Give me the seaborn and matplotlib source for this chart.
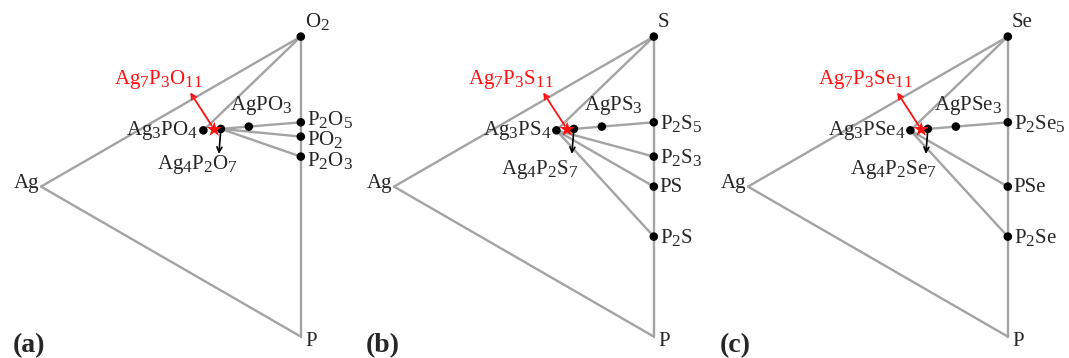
import re
import numpy as np
import pandas as pd
import matplotlib
matplotlib.use('Agg')
import matplotlib.pyplot as plt
import matplotlib._mathtext as mathtext
import seaborn as sns

# one panel per chalcogen: Ag - P - X ternary
top_labels = ['O2', 'S', 'Se']
panel_tags = ['(a)', '(b)', '(c)']

# phases as atom counts (Ag, P, X)
phases_a = ['Ag3PO4', 'Ag4P2O7', 'AgPO3', 'P2O5', 'PO2', 'P2O3']
counts_a = [(3, 1, 4), (4, 2, 7), (1, 1, 3), (0, 2, 5), (0, 1, 2), (0, 2, 3)]
phases_b = ['Ag3PS4', 'Ag4P2S7', 'AgPS3', 'P2S5', 'P2S3', 'PS', 'P2S']
counts_b = [(3, 1, 4), (4, 2, 7), (1, 1, 3), (0, 2, 5), (0, 2, 3), (0, 1, 1), (0, 2, 1)]
phases_c = ['Ag3PSe4', 'Ag4P2Se7', 'AgPSe3', 'P2Se5', 'PSe', 'P2Se']
counts_c = [(3, 1, 4), (4, 2, 7), (1, 1, 3), (0, 2, 5), (0, 1, 1), (0, 2, 1)]

star_names = ['Ag7P3O11', 'Ag7P3S11', 'Ag7P3Se11']
star_counts = (7, 3, 11)

# tie lines (pairs of phase names)
ties_a = [('O2', 'Ag3PO4'), ('Ag4P2O7', 'P2O5'), ('Ag4P2O7', 'PO2'), ('Ag4P2O7', 'P2O3')]
ties_b = [('S', 'Ag3PS4'), ('Ag4P2S7', 'P2S5'), ('Ag3PS4', 'P2S3'), ('Ag3PS4', 'PS'), ('Ag3PS4', 'P2S')]
ties_c = [('Se', 'Ag3PSe4'), ('Ag4P2Se7', 'P2Se5'), ('Ag3PSe4', 'PSe'), ('Ag3PSe4', 'P2Se')]

panels = [(phases_a, counts_a, ties_a), (phases_b, counts_b, ties_b), (phases_c, counts_c, ties_c)]

sns.set_style('white')
plt.rcParams['font.family'] = ['Liberation Serif', 'DejaVu Serif']
plt.rcParams['mathtext.fontset'] = 'custom'
plt.rcParams['mathtext.rm'] = 'Liberation Serif'
plt.rcParams['mathtext.it'] = 'Liberation Serif:italic'
# the subscripts in the figure are only slightly smaller than the text
if hasattr(mathtext, 'SHRINK_FACTOR'):
    mathtext.SHRINK_FACTOR = 0.82

GRAY = '#a3a3a3'
RED = '#ff1010'
FS = 15
PX = 0.72  # pixels -> points

# small nudges where labels sit close together (pixels)
nudge = {'P2O5': (0, 4), 'PO2': (0, -2), 'P2O3': (0, -3)}


def formula(name):
    return re.sub(r'(\d+)', r'$_{\\mathrm{\1}}$', name)


def to_xy(c):
    c = np.array(c, dtype=float)
    c = c / c.sum()
    h = np.sqrt(3) / 2
    return h * (c[1] + c[2]), 0.5 * (c[2] - c[1])


fig = plt.figure(figsize=(10.69, 3.58), dpi=100)
left_px = [0, 353, 707]

for k, (names, counts, ties) in enumerate(panels):
    ax = fig.add_axes([left_px[k] / 1069, 0, 356 / 1069, 1])
    top = top_labels[k]
    pos = {'Ag': to_xy((1, 0, 0)), 'P': to_xy((0, 1, 0)), top: to_xy((0, 0, 1))}
    for n, c in zip(names, counts):
        pos[n] = to_xy(c)

    # triangle + tie lines
    segs = [('Ag', top), ('Ag', 'P'), (top, 'P')] + ties
    rows = []
    for i, (p, q) in enumerate(segs):
        rows.append({'seg': i, 'x': pos[p][0], 'y': pos[p][1]})
        rows.append({'seg': i, 'x': pos[q][0], 'y': pos[q][1]})
    df = pd.DataFrame(rows)
    sns.lineplot(data=df, x='x', y='y', units='seg', estimator=None, sort=False,
                 color=GRAY, lw=1.7, ax=ax, zorder=1)

    pts = pd.DataFrame({'name': [top] + names,
                        'x': [pos[n][0] for n in [top] + names],
                        'y': [pos[n][1] for n in [top] + names]})
    sns.scatterplot(data=pts, x='x', y='y', color='black', s=38, edgecolor='none',
                    ax=ax, zorder=3)

    sx, sy = to_xy(star_counts)
    ax.scatter([sx], [sy], marker='*', s=130, color=RED, edgecolor='none', zorder=4)

    # red arrow + label for the new phase
    ax.annotate('', xy=(sx, sy), xytext=(-24 * PX, 37 * PX), textcoords='offset points',
                arrowprops=dict(arrowstyle='<-', color=RED, lw=1.3, mutation_scale=9,
                                shrinkA=0, shrinkB=3))
    ax.annotate(formula(star_names[k]), xy=(sx, sy), xytext=(-56 * PX, 38 * PX),
                textcoords='offset points', ha='center', va='bottom', color=RED, fontsize=FS)

    for n, c in zip(names, counts):
        x, y = pos[n]
        if c[0] == 0:
            off, ha, va = (6, -1), 'left', 'center'
        elif n.startswith('Ag3'):
            off, ha, va = (-5, 0), 'right', 'center'
        elif n.startswith('Ag4'):
            ax.annotate('', xy=(x, y), xytext=(-2 * PX, -25 * PX), textcoords='offset points',
                        arrowprops=dict(arrowstyle='<-', color='black', lw=1.2,
                                        mutation_scale=9, shrinkA=0, shrinkB=3))
            off, ha, va = ((-23, -24) if k == 0 else (-34, -29)), 'center', 'top'
        else:
            off, ha, va = (12, 10), 'center', 'bottom'
        dx, dy = nudge.get(n, (0, 0))
        ax.annotate(formula(n), xy=(x, y), xytext=((off[0] + dx) * PX, (off[1] + dy) * PX),
                    textcoords='offset points', ha=ha, va=va, fontsize=FS)

    # vertex labels
    ax.annotate(formula(top), xy=pos[top], xytext=(4 * PX, 5 * PX), textcoords='offset points',
                ha='left', va='bottom', fontsize=FS)
    ax.annotate('Ag', xy=pos['Ag'], xytext=(-2 * PX, 3 * PX), textcoords='offset points',
                ha='right', va='center', fontsize=FS)
    ax.annotate('P', xy=pos['P'], xytext=(5 * PX, -5 * PX), textcoords='offset points',
                ha='left', va='center', fontsize=FS)

    ax.set_xlim(-41 / 300, 315 / 300)
    ax.set_ylim(0.622 - 358 / 300, 0.622)
    ax.axis('off')

for k, tag in enumerate(panel_tags):
    fig.text((left_px[k] + 13) / 1069, 6 / 358, tag, fontsize=20, fontweight='bold',
             ha='left', va='baseline')

fig.savefig('out.png', dpi=100)
